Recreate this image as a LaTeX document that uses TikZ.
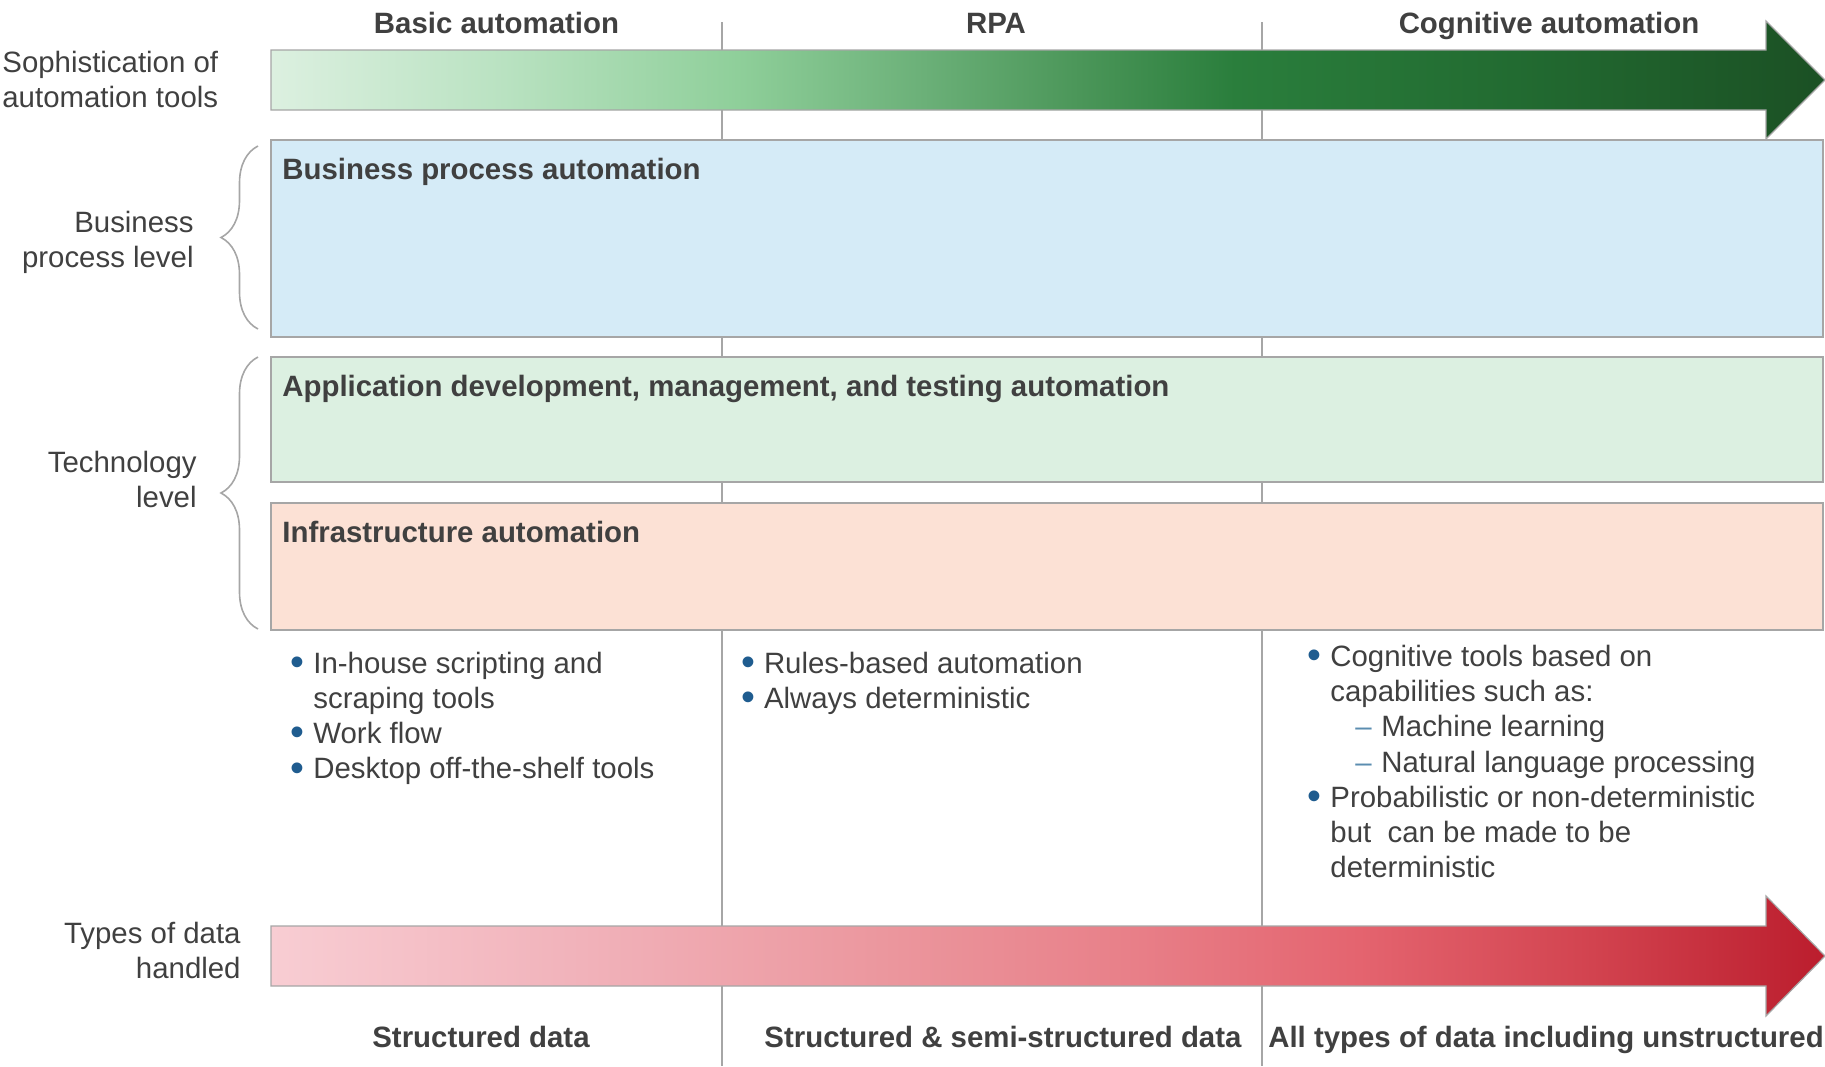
\documentclass[tikz,border=0pt]{standalone}
\usepackage{fontspec}
\setmainfont{Liberation Sans}
\usepackage{graphicx}
\usepackage{tikz}
\usetikzlibrary{positioning, calc, decorations.pathreplacing}
\definecolor{TextGray}{HTML}{404040}
\definecolor{LineGray}{HTML}{A6A6A6}
\definecolor{BulletBlue}{HTML}{1F5C8F}
\definecolor{DashBlue}{HTML}{5B8DB0}
\definecolor{ProcessBlue}{HTML}{D5EBF7}
\definecolor{AppGreen}{HTML}{DCF0E1}
\definecolor{InfraOrange}{HTML}{FCE1D5}
% Gradient stops
\definecolor{ToolA}{HTML}{DCF0E0}
\definecolor{ToolB}{HTML}{B9E2C1}
\definecolor{ToolC}{HTML}{8FCF9A}
\definecolor{ToolD}{HTML}{6BB078}
\definecolor{ToolE}{HTML}{4B9659}
\definecolor{ToolF}{HTML}{2A7E3C}
\definecolor{ToolG}{HTML}{226B31}
\definecolor{ToolH}{HTML}{1B5024}
\definecolor{DataA}{HTML}{F8CDD3}
\definecolor{DataB}{HTML}{F1B2BA}
\definecolor{DataC}{HTML}{EB969D}
\definecolor{DataD}{HTML}{E88089}
\definecolor{DataE}{HTML}{E4646F}
\definecolor{DataF}{HTML}{D2434F}
\definecolor{DataG}{HTML}{BB1D2D}
\pgfdeclarehorizontalshading{toolshade}{100bp}{color(0bp)=(ToolA); color(25bp)=(ToolA); color(32.5bp)=(ToolB); color(40bp)=(ToolC); color(46bp)=(ToolD); color(51bp)=(ToolE); color(56bp)=(ToolF); color(65bp)=(ToolG); color(75bp)=(ToolH); color(100bp)=(ToolH)}
\pgfdeclarehorizontalshading{datashade}{100bp}{color(0bp)=(DataA); color(25bp)=(DataA); color(35bp)=(DataB); color(45bp)=(DataC); color(52.5bp)=(DataD); color(60bp)=(DataE); color(67.5bp)=(DataF); color(75bp)=(DataG); color(100bp)=(DataG)}
\newcommand{\labelsize}{\fontsize{14.7}{17.6}\selectfont}
\newcommand{\bitem}{\makebox[11.5pt][l]{\textcolor{BulletBlue}{\raisebox{-0.08em}{\scalebox{1.35}{\textbullet}}}}}
\newcommand{\bcont}{\hspace*{11.5pt}}
\newcommand{\ditem}{\hspace*{24pt}\makebox[13pt][l]{\textcolor{DashBlue}{--}}}
\tikzset{
  % Text styles
  headtext/.style={font=\labelsize\bfseries, text=TextGray, inner sep=0pt, anchor=base},
  sidetext/.style={font=\labelsize, text=TextGray, inner sep=0pt, align=right, anchor=north east},
  listtext/.style={font=\labelsize, text=TextGray, inner sep=0pt, align=left, anchor=north west},
  boxtitle/.style={font=\labelsize\bfseries, text=TextGray, inner sep=0pt, anchor=base west},
  % Box styles
  levelbox/.style={rectangle, draw=LineGray, line width=0.8pt, inner sep=0pt, outer sep=0pt, anchor=north west, minimum width=776pt},
  % Line styles
  flowarrow/.style={draw=LineGray, line width=0.6pt, shade},
  divider/.style={LineGray, line width=0.9pt},
  levelbrace/.style={LineGray, line width=0.8pt, decorate, decoration={brace, amplitude=18.5pt}}
}
\begin{document}
\begin{tikzpicture}[x=0.5pt, y=-0.5pt]
  \useasboundingbox (0,0) rectangle (1825,1066);

  % Column dividers
  \draw[divider] (721.6,22) -- (721.6,1066);
  \draw[divider] (1261.7,22) -- (1261.7,1066);

  % Column headers
  \node[headtext] (basic) at (496.5,33) {Basic automation};
  \node[headtext] (rpa) at (996,33) {RPA};
  \node[headtext] (cognitive) at (1549,33) {Cognitive automation};

  % Sophistication arrow
  \path[flowarrow, shading=toolshade] (271,50) -- (1766,50) -- (1766,21) -- (1825,80) -- (1766,139) -- (1766,110) -- (271,110) -- cycle;
  \node[sidetext, align=left, anchor=north west] (toolslabel) at (2,47.4) {\strut Sophistication of\\automation tools};

  % Level boxes
  \node[levelbox, fill=ProcessBlue, minimum height=98.5pt] (bpa) at (271,140) {};
  \node[levelbox, fill=AppGreen, minimum height=62.5pt] (app) at (271,357) {};
  \node[levelbox, fill=InfraOrange, minimum height=63.5pt] (infra) at (271,503) {};
  \node[boxtitle] (bpatitle) at ($(bpa.north west)+(11,39)$) {Business process automation};
  \node[boxtitle] (apptitle) at ($(app.north west)+(11,39)$) {Application development, management, and testing automation};
  \node[boxtitle] (infratitle) at ($(infra.north west)+(11,39)$) {Infrastructure automation};

  % Level braces
  \draw[levelbrace] (258,329) -- (258,146);
  \draw[levelbrace] (258,629) -- (258,357);
  \node[sidetext] (bizlabel) at (194,207.4) {\strut Business\\process level};
  \node[sidetext] (techlabel) at (197,447.4) {\strut Technology\\level};

  % Tool lists
  \node[listtext] (basiclist) at (290,648) {\strut\bitem In-house scripting and\\\bcont scraping tools\\\bitem Work flow\\\bitem Desktop off-the-shelf tools};
  \node[listtext] (rpalist) at (740.6,648) {\strut\bitem Rules-based automation\\\bitem Always deterministic};
  \node[listtext] (cognitivelist) at (1307,641.4) {\strut\bitem Cognitive tools based on\\\bcont capabilities such as:\\\ditem Machine learning\\\ditem Natural language processing\\\bitem Probabilistic or non-deterministic\\\bcont but\ \ can be made to be\\\bcont deterministic};

  % Data arrow
  \path[flowarrow, shading=datashade] (271,926) -- (1766,926) -- (1766,896) -- (1825,956) -- (1766,1016) -- (1766,986) -- (271,986) -- cycle;
  \node[sidetext] (datalabel) at (241,918.4) {\strut Types of data\\handled};

  % Data types
  \node[headtext] (structured) at (481,1047) {Structured data};
  \node[headtext] (semi) at (1003,1047) {Structured \& semi-structured data};
  \node[headtext] (alltypes) at (1546,1047) {All types of data including unstructured};
\end{tikzpicture}
\end{document}
